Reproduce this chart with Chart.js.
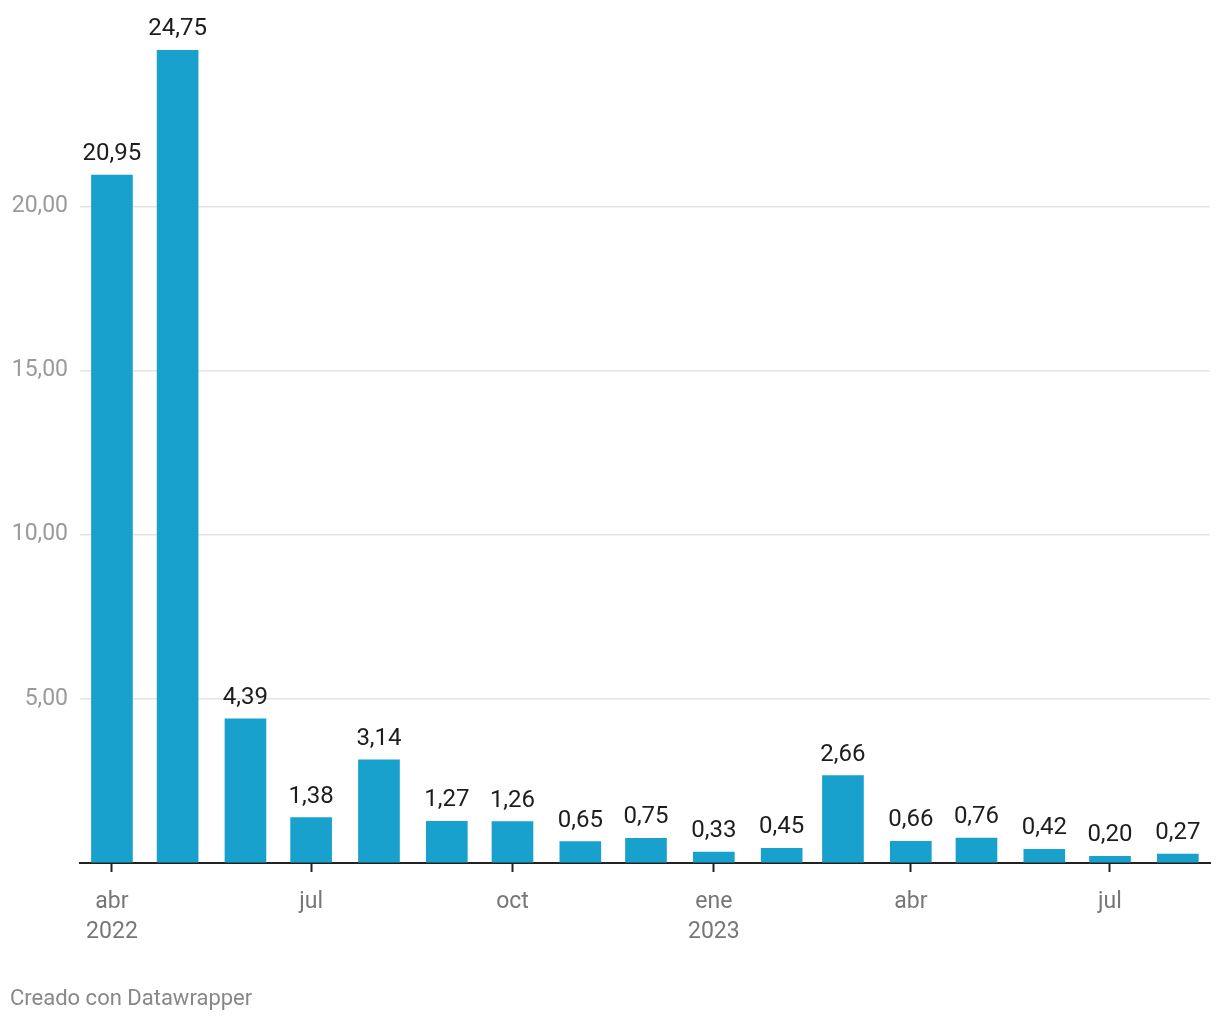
<!DOCTYPE html>
<html>
<head>
<meta charset="utf-8">
<script src="https://cdn.jsdelivr.net/npm/chart.js@4.4.0/dist/chart.umd.min.js"></script>
<style>
  html, body { margin: 0; padding: 0; background: #fff; }
  #wrap { position: relative; width: 1220px; height: 1020px; }
  #footer { position: absolute; left: 10px; top: 985px; font: 22px Roboto, sans-serif; color: #888; }
</style>
</head>
<body>
<div id="wrap">
  <canvas id="c" width="1220" height="1020"></canvas>
  <div id="footer">Creado con Datawrapper</div>
</div>
<script>
const months = ["2022-04","2022-05","2022-06","2022-07","2022-08","2022-09","2022-10","2022-11","2022-12","2023-01","2023-02","2023-03","2023-04","2023-05","2023-06","2023-07","2023-08"];
const values = [20.95, 24.75, 4.39, 1.38, 3.14, 1.27, 1.26, 0.65, 0.75, 0.33, 0.45, 2.66, 0.66, 0.76, 0.42, 0.20, 0.27];
const tickMonths = ["2022-04","2022-07","2022-10","2023-01","2023-04","2023-07"];
const tickLabels = [["abr","2022"],["jul"],["oct"],["ene","2023"],["abr"],["jul"]];
const yTicks = [5, 10, 15, 20];

const DAY = 86400000;
const origin = Date.UTC(2022, 3, 1);
function dayOf(m) {
  const [y, mo] = m.split("-").map(Number);
  return (Date.UTC(y, mo - 1, 1) - origin) / DAY;
}
const fmt = v => v.toFixed(2).replace(".", ",");

const labelPlugin = {
  id: "barLabels",
  afterDatasetsDraw(chart) {
    const ctx = chart.ctx;
    const meta = chart.getDatasetMeta(0);
    ctx.save();
    ctx.font = "24px Roboto, sans-serif";
    ctx.fillStyle = "#1d1d1d";
    ctx.textAlign = "center";
    ctx.textBaseline = "alphabetic";
    meta.data.forEach((bar, i) => {
      ctx.fillText(fmt(values[i]), bar.x, bar.y - 15);
    });
    ctx.restore();
  }
};

new Chart(document.getElementById("c"), {
  type: "bar",
  data: {
    datasets: [{
      data: months.map((m, i) => ({ x: dayOf(m), y: values[i] })),
      backgroundColor: "#18a1cd",
      barThickness: 41,
      borderWidth: 0
    }]
  },
  options: {
    responsive: false,
    animation: false,
    layout: { padding: { top: 23, right: 10, left: 0, bottom: 0 } },
    plugins: { legend: { display: false }, tooltip: { enabled: false } },
    scales: {
      x: {
        type: "linear",
        min: -14.6,
        max: 501.7,
        offset: false,
        afterBuildTicks(scale) {
          scale.ticks = tickMonths.map(m => ({ value: dayOf(m) }));
        },
        afterFit(scale) { scale.height = 157; },
        ticks: {
          autoSkip: false,
          maxRotation: 0,
          padding: 15,
          color: "#777",
          font: { family: "Roboto, sans-serif", size: 23, lineHeight: 1.3 },
          callback(value) {
            const i = tickMonths.findIndex(m => dayOf(m) === value);
            return i >= 0 ? tickLabels[i] : "";
          }
        },
        grid: { offset: false, drawOnChartArea: false, drawTicks: true, tickLength: 9, tickWidth: 2, tickColor: "#222" },
        border: { display: true, color: "#222", width: 2 }
      },
      y: {
        min: 0,
        max: 25.5,
        afterBuildTicks(scale) {
          scale.ticks = [0].concat(yTicks).map(v => ({ value: v }));
        },
        afterFit(scale) { scale.width = 80; },
        ticks: {
          padding: 12,
          color: "#9a9a9a",
          font: { family: "Roboto, sans-serif", size: 23 },
          callback(value) { return value === 0 ? "" : fmt(value); }
        },
        grid: { color: "#e3e3e3", lineWidth: 1.5, drawTicks: false },
        border: { display: false }
      }
    }
  },
  plugins: [labelPlugin]
});
</script>
</body>
</html>
